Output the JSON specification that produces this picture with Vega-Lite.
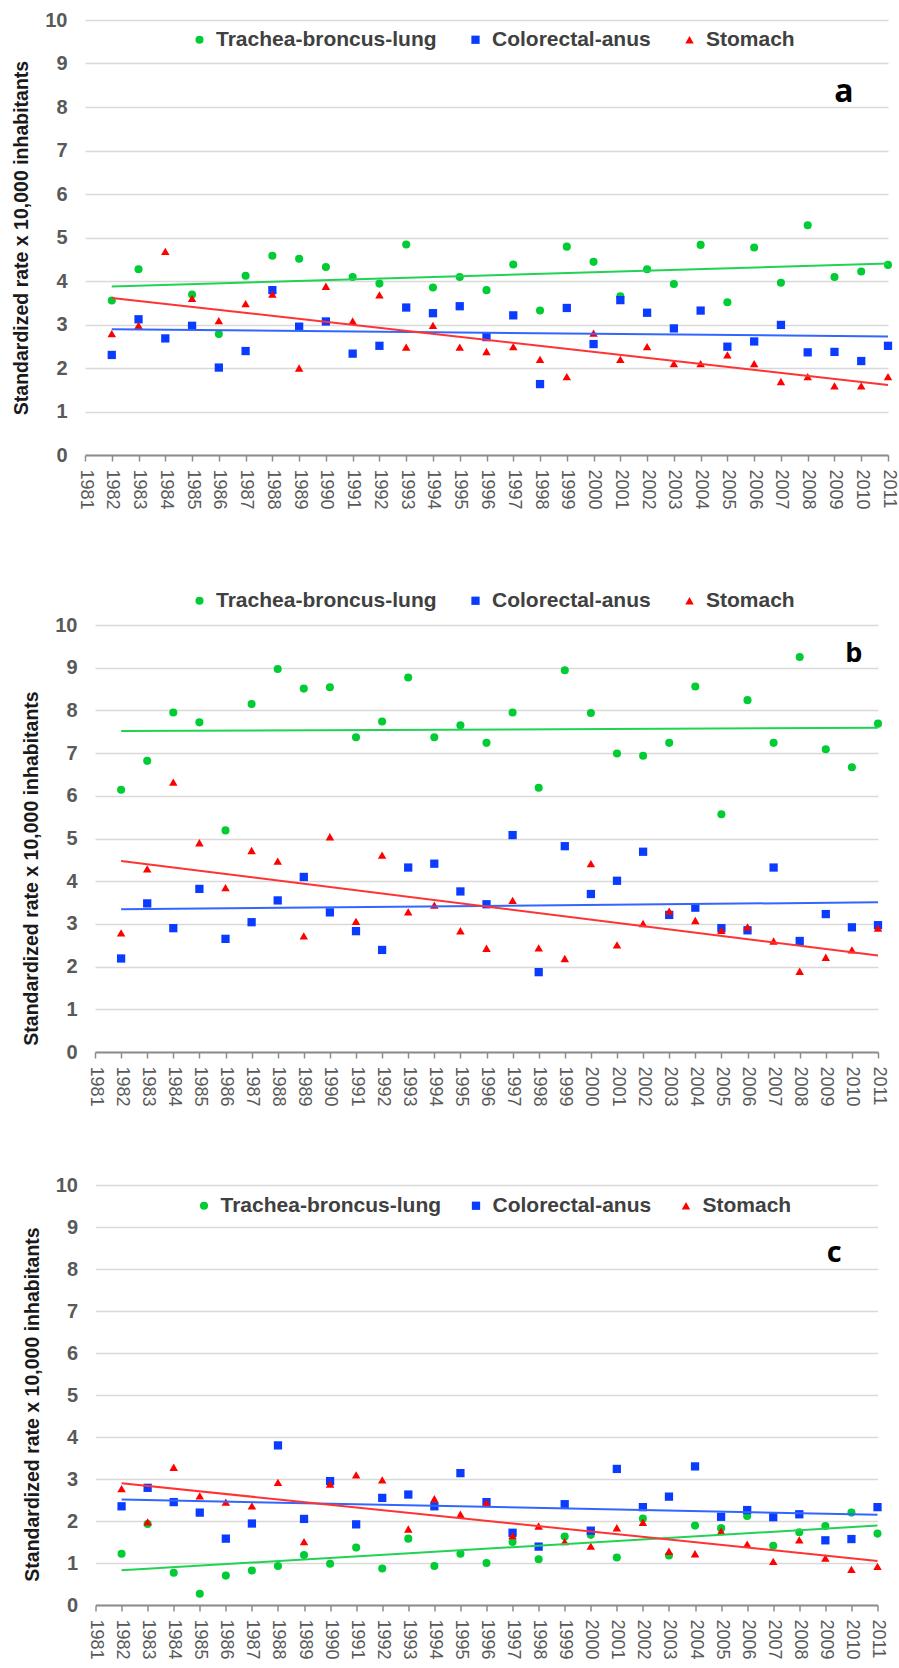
{
  "$schema": "https://vega.github.io/schema/vega-lite/v6.json",
  "background": "white",
  "padding": {"left": 11, "top": 10, "right": 3, "bottom": 0},
  "config": {
    "view": {"stroke": null},
    "axis": {"labelOverlap": false},
    "axisY": {"grid": true, "gridColor": "#d9d9d9", "gridWidth": 1.5, "domain": false, "ticks": false, "tickSize": 0, "labelPadding": 18, "labelFontSize": 20, "labelFontWeight": "bold", "labelColor": "#595959", "labelFont": "Liberation Sans", "titleFontSize": 19.5, "titleFontWeight": "bold", "titleColor": "#1a1a1a", "titlePadding": 13, "titleFont": "Liberation Sans"},
    "axisX": {"format": "d", "labelAngle": 90, "grid": false, "domainColor": "#8c8c8c", "domainWidth": 2, "tickColor": "#8c8c8c", "tickWidth": 1.5, "tickSize": 6, "labelPadding": 8, "labelFontSize": 18, "labelColor": "#595959", "labelFont": "Liberation Sans", "labelOverlap": false, "labelFlush": false, "labelBound": false},
    "legend": {"title": null, "orient": "none", "direction": "horizontal", "padding": 0, "labelFontSize": 21, "labelFont": "Liberation Sans", "labelFontWeight": "bold", "labelColor": "#404040", "labelLimit": 400, "symbolSize": 60, "labelOffset": 6, "columnPadding": 28, "symbolStrokeWidth": 0}
  },
  "datasets": {
    "rates": [
      {"panel":"a","series":"Trachea-broncus-lung","year":1982,"value":3.55},
      {"panel":"a","series":"Trachea-broncus-lung","year":1983,"value":4.27},
      {"panel":"a","series":"Trachea-broncus-lung","year":1985,"value":3.69},
      {"panel":"a","series":"Trachea-broncus-lung","year":1986,"value":2.78},
      {"panel":"a","series":"Trachea-broncus-lung","year":1987,"value":4.12},
      {"panel":"a","series":"Trachea-broncus-lung","year":1988,"value":4.58},
      {"panel":"a","series":"Trachea-broncus-lung","year":1989,"value":4.51},
      {"panel":"a","series":"Trachea-broncus-lung","year":1990,"value":4.32},
      {"panel":"a","series":"Trachea-broncus-lung","year":1991,"value":4.09},
      {"panel":"a","series":"Trachea-broncus-lung","year":1992,"value":3.94},
      {"panel":"a","series":"Trachea-broncus-lung","year":1993,"value":4.84},
      {"panel":"a","series":"Trachea-broncus-lung","year":1994,"value":3.85},
      {"panel":"a","series":"Trachea-broncus-lung","year":1995,"value":4.09},
      {"panel":"a","series":"Trachea-broncus-lung","year":1996,"value":3.79},
      {"panel":"a","series":"Trachea-broncus-lung","year":1997,"value":4.38},
      {"panel":"a","series":"Trachea-broncus-lung","year":1998,"value":3.32},
      {"panel":"a","series":"Trachea-broncus-lung","year":1999,"value":4.79},
      {"panel":"a","series":"Trachea-broncus-lung","year":2000,"value":4.44},
      {"panel":"a","series":"Trachea-broncus-lung","year":2001,"value":3.65},
      {"panel":"a","series":"Trachea-broncus-lung","year":2002,"value":4.27},
      {"panel":"a","series":"Trachea-broncus-lung","year":2003,"value":3.93},
      {"panel":"a","series":"Trachea-broncus-lung","year":2004,"value":4.83},
      {"panel":"a","series":"Trachea-broncus-lung","year":2005,"value":3.51},
      {"panel":"a","series":"Trachea-broncus-lung","year":2006,"value":4.77},
      {"panel":"a","series":"Trachea-broncus-lung","year":2007,"value":3.96},
      {"panel":"a","series":"Trachea-broncus-lung","year":2008,"value":5.28},
      {"panel":"a","series":"Trachea-broncus-lung","year":2009,"value":4.09},
      {"panel":"a","series":"Trachea-broncus-lung","year":2010,"value":4.22},
      {"panel":"a","series":"Trachea-broncus-lung","year":2011,"value":4.37},
      {"panel":"a","series":"Colorectal-anus","year":1982,"value":2.30},
      {"panel":"a","series":"Colorectal-anus","year":1983,"value":3.12},
      {"panel":"a","series":"Colorectal-anus","year":1984,"value":2.68},
      {"panel":"a","series":"Colorectal-anus","year":1985,"value":2.97},
      {"panel":"a","series":"Colorectal-anus","year":1986,"value":2.01},
      {"panel":"a","series":"Colorectal-anus","year":1987,"value":2.39},
      {"panel":"a","series":"Colorectal-anus","year":1988,"value":3.79},
      {"panel":"a","series":"Colorectal-anus","year":1989,"value":2.95},
      {"panel":"a","series":"Colorectal-anus","year":1990,"value":3.07},
      {"panel":"a","series":"Colorectal-anus","year":1991,"value":2.33},
      {"panel":"a","series":"Colorectal-anus","year":1992,"value":2.51},
      {"panel":"a","series":"Colorectal-anus","year":1993,"value":3.39},
      {"panel":"a","series":"Colorectal-anus","year":1994,"value":3.26},
      {"panel":"a","series":"Colorectal-anus","year":1995,"value":3.42},
      {"panel":"a","series":"Colorectal-anus","year":1996,"value":2.71},
      {"panel":"a","series":"Colorectal-anus","year":1997,"value":3.21},
      {"panel":"a","series":"Colorectal-anus","year":1998,"value":1.63},
      {"panel":"a","series":"Colorectal-anus","year":1999,"value":3.38},
      {"panel":"a","series":"Colorectal-anus","year":2000,"value":2.55},
      {"panel":"a","series":"Colorectal-anus","year":2001,"value":3.56},
      {"panel":"a","series":"Colorectal-anus","year":2002,"value":3.27},
      {"panel":"a","series":"Colorectal-anus","year":2003,"value":2.91},
      {"panel":"a","series":"Colorectal-anus","year":2004,"value":3.32},
      {"panel":"a","series":"Colorectal-anus","year":2005,"value":2.49},
      {"panel":"a","series":"Colorectal-anus","year":2006,"value":2.61},
      {"panel":"a","series":"Colorectal-anus","year":2007,"value":2.99},
      {"panel":"a","series":"Colorectal-anus","year":2008,"value":2.36},
      {"panel":"a","series":"Colorectal-anus","year":2009,"value":2.37},
      {"panel":"a","series":"Colorectal-anus","year":2010,"value":2.16},
      {"panel":"a","series":"Colorectal-anus","year":2011,"value":2.51},
      {"panel":"a","series":"Stomach","year":1982,"value":2.79},
      {"panel":"a","series":"Stomach","year":1983,"value":2.98},
      {"panel":"a","series":"Stomach","year":1984,"value":4.68},
      {"panel":"a","series":"Stomach","year":1985,"value":3.60},
      {"panel":"a","series":"Stomach","year":1986,"value":3.09},
      {"panel":"a","series":"Stomach","year":1987,"value":3.48},
      {"panel":"a","series":"Stomach","year":1988,"value":3.70},
      {"panel":"a","series":"Stomach","year":1989,"value":2.00},
      {"panel":"a","series":"Stomach","year":1990,"value":3.88},
      {"panel":"a","series":"Stomach","year":1991,"value":3.08},
      {"panel":"a","series":"Stomach","year":1992,"value":3.68},
      {"panel":"a","series":"Stomach","year":1993,"value":2.48},
      {"panel":"a","series":"Stomach","year":1994,"value":2.98},
      {"panel":"a","series":"Stomach","year":1995,"value":2.48},
      {"panel":"a","series":"Stomach","year":1996,"value":2.38},
      {"panel":"a","series":"Stomach","year":1997,"value":2.49},
      {"panel":"a","series":"Stomach","year":1998,"value":2.20},
      {"panel":"a","series":"Stomach","year":1999,"value":1.80},
      {"panel":"a","series":"Stomach","year":2000,"value":2.80},
      {"panel":"a","series":"Stomach","year":2001,"value":2.20},
      {"panel":"a","series":"Stomach","year":2002,"value":2.49},
      {"panel":"a","series":"Stomach","year":2003,"value":2.10},
      {"panel":"a","series":"Stomach","year":2004,"value":2.10},
      {"panel":"a","series":"Stomach","year":2005,"value":2.30},
      {"panel":"a","series":"Stomach","year":2006,"value":2.10},
      {"panel":"a","series":"Stomach","year":2007,"value":1.69},
      {"panel":"a","series":"Stomach","year":2008,"value":1.80},
      {"panel":"a","series":"Stomach","year":2009,"value":1.59},
      {"panel":"a","series":"Stomach","year":2010,"value":1.59},
      {"panel":"a","series":"Stomach","year":2011,"value":1.80},

      {"panel":"b","series":"Trachea-broncus-lung","year":1982,"value":6.14},
      {"panel":"b","series":"Trachea-broncus-lung","year":1983,"value":6.82},
      {"panel":"b","series":"Trachea-broncus-lung","year":1984,"value":7.95},
      {"panel":"b","series":"Trachea-broncus-lung","year":1985,"value":7.72},
      {"panel":"b","series":"Trachea-broncus-lung","year":1986,"value":5.19},
      {"panel":"b","series":"Trachea-broncus-lung","year":1987,"value":8.15},
      {"panel":"b","series":"Trachea-broncus-lung","year":1988,"value":8.97},
      {"panel":"b","series":"Trachea-broncus-lung","year":1989,"value":8.51},
      {"panel":"b","series":"Trachea-broncus-lung","year":1990,"value":8.54},
      {"panel":"b","series":"Trachea-broncus-lung","year":1991,"value":7.37},
      {"panel":"b","series":"Trachea-broncus-lung","year":1992,"value":7.74},
      {"panel":"b","series":"Trachea-broncus-lung","year":1993,"value":8.77},
      {"panel":"b","series":"Trachea-broncus-lung","year":1994,"value":7.37},
      {"panel":"b","series":"Trachea-broncus-lung","year":1995,"value":7.65},
      {"panel":"b","series":"Trachea-broncus-lung","year":1996,"value":7.24},
      {"panel":"b","series":"Trachea-broncus-lung","year":1997,"value":7.95},
      {"panel":"b","series":"Trachea-broncus-lung","year":1998,"value":6.19},
      {"panel":"b","series":"Trachea-broncus-lung","year":1999,"value":8.94},
      {"panel":"b","series":"Trachea-broncus-lung","year":2000,"value":7.94},
      {"panel":"b","series":"Trachea-broncus-lung","year":2001,"value":6.99},
      {"panel":"b","series":"Trachea-broncus-lung","year":2002,"value":6.94},
      {"panel":"b","series":"Trachea-broncus-lung","year":2003,"value":7.24},
      {"panel":"b","series":"Trachea-broncus-lung","year":2004,"value":8.56},
      {"panel":"b","series":"Trachea-broncus-lung","year":2005,"value":5.57},
      {"panel":"b","series":"Trachea-broncus-lung","year":2006,"value":8.24},
      {"panel":"b","series":"Trachea-broncus-lung","year":2007,"value":7.24},
      {"panel":"b","series":"Trachea-broncus-lung","year":2008,"value":9.25},
      {"panel":"b","series":"Trachea-broncus-lung","year":2009,"value":7.09},
      {"panel":"b","series":"Trachea-broncus-lung","year":2010,"value":6.67},
      {"panel":"b","series":"Trachea-broncus-lung","year":2011,"value":7.69},
      {"panel":"b","series":"Colorectal-anus","year":1982,"value":2.19},
      {"panel":"b","series":"Colorectal-anus","year":1983,"value":3.48},
      {"panel":"b","series":"Colorectal-anus","year":1984,"value":2.90},
      {"panel":"b","series":"Colorectal-anus","year":1985,"value":3.82},
      {"panel":"b","series":"Colorectal-anus","year":1986,"value":2.65},
      {"panel":"b","series":"Colorectal-anus","year":1987,"value":3.04},
      {"panel":"b","series":"Colorectal-anus","year":1988,"value":3.55},
      {"panel":"b","series":"Colorectal-anus","year":1989,"value":4.10},
      {"panel":"b","series":"Colorectal-anus","year":1990,"value":3.27},
      {"panel":"b","series":"Colorectal-anus","year":1991,"value":2.83},
      {"panel":"b","series":"Colorectal-anus","year":1992,"value":2.39},
      {"panel":"b","series":"Colorectal-anus","year":1993,"value":4.32},
      {"panel":"b","series":"Colorectal-anus","year":1994,"value":4.41},
      {"panel":"b","series":"Colorectal-anus","year":1995,"value":3.76},
      {"panel":"b","series":"Colorectal-anus","year":1996,"value":3.46},
      {"panel":"b","series":"Colorectal-anus","year":1997,"value":5.08},
      {"panel":"b","series":"Colorectal-anus","year":1998,"value":1.87},
      {"panel":"b","series":"Colorectal-anus","year":1999,"value":4.82},
      {"panel":"b","series":"Colorectal-anus","year":2000,"value":3.70},
      {"panel":"b","series":"Colorectal-anus","year":2001,"value":4.01},
      {"panel":"b","series":"Colorectal-anus","year":2002,"value":4.69},
      {"panel":"b","series":"Colorectal-anus","year":2003,"value":3.21},
      {"panel":"b","series":"Colorectal-anus","year":2004,"value":3.38},
      {"panel":"b","series":"Colorectal-anus","year":2005,"value":2.90},
      {"panel":"b","series":"Colorectal-anus","year":2006,"value":2.85},
      {"panel":"b","series":"Colorectal-anus","year":2007,"value":4.32},
      {"panel":"b","series":"Colorectal-anus","year":2008,"value":2.60},
      {"panel":"b","series":"Colorectal-anus","year":2009,"value":3.23},
      {"panel":"b","series":"Colorectal-anus","year":2010,"value":2.92},
      {"panel":"b","series":"Colorectal-anus","year":2011,"value":2.97},
      {"panel":"b","series":"Stomach","year":1982,"value":2.79},
      {"panel":"b","series":"Stomach","year":1983,"value":4.29},
      {"panel":"b","series":"Stomach","year":1984,"value":6.32},
      {"panel":"b","series":"Stomach","year":1985,"value":4.90},
      {"panel":"b","series":"Stomach","year":1986,"value":3.85},
      {"panel":"b","series":"Stomach","year":1987,"value":4.72},
      {"panel":"b","series":"Stomach","year":1988,"value":4.47},
      {"panel":"b","series":"Stomach","year":1989,"value":2.72},
      {"panel":"b","series":"Stomach","year":1990,"value":5.04},
      {"panel":"b","series":"Stomach","year":1991,"value":3.06},
      {"panel":"b","series":"Stomach","year":1992,"value":4.61},
      {"panel":"b","series":"Stomach","year":1993,"value":3.28},
      {"panel":"b","series":"Stomach","year":1994,"value":3.44},
      {"panel":"b","series":"Stomach","year":1995,"value":2.84},
      {"panel":"b","series":"Stomach","year":1996,"value":2.43},
      {"panel":"b","series":"Stomach","year":1997,"value":3.55},
      {"panel":"b","series":"Stomach","year":1998,"value":2.44},
      {"panel":"b","series":"Stomach","year":1999,"value":2.19},
      {"panel":"b","series":"Stomach","year":2000,"value":4.41},
      {"panel":"b","series":"Stomach","year":2001,"value":2.51},
      {"panel":"b","series":"Stomach","year":2002,"value":3.01},
      {"panel":"b","series":"Stomach","year":2003,"value":3.30},
      {"panel":"b","series":"Stomach","year":2004,"value":3.08},
      {"panel":"b","series":"Stomach","year":2005,"value":2.85},
      {"panel":"b","series":"Stomach","year":2006,"value":2.93},
      {"panel":"b","series":"Stomach","year":2007,"value":2.60},
      {"panel":"b","series":"Stomach","year":2008,"value":1.89},
      {"panel":"b","series":"Stomach","year":2009,"value":2.22},
      {"panel":"b","series":"Stomach","year":2010,"value":2.39},
      {"panel":"b","series":"Stomach","year":2011,"value":2.90},

      {"panel":"c","series":"Trachea-broncus-lung","year":1982,"value":1.22},
      {"panel":"c","series":"Trachea-broncus-lung","year":1983,"value":1.93},
      {"panel":"c","series":"Trachea-broncus-lung","year":1984,"value":0.77},
      {"panel":"c","series":"Trachea-broncus-lung","year":1985,"value":0.27},
      {"panel":"c","series":"Trachea-broncus-lung","year":1986,"value":0.70},
      {"panel":"c","series":"Trachea-broncus-lung","year":1987,"value":0.82},
      {"panel":"c","series":"Trachea-broncus-lung","year":1988,"value":0.93},
      {"panel":"c","series":"Trachea-broncus-lung","year":1989,"value":1.19},
      {"panel":"c","series":"Trachea-broncus-lung","year":1990,"value":0.98},
      {"panel":"c","series":"Trachea-broncus-lung","year":1991,"value":1.37},
      {"panel":"c","series":"Trachea-broncus-lung","year":1992,"value":0.87},
      {"panel":"c","series":"Trachea-broncus-lung","year":1993,"value":1.58},
      {"panel":"c","series":"Trachea-broncus-lung","year":1994,"value":0.93},
      {"panel":"c","series":"Trachea-broncus-lung","year":1995,"value":1.22},
      {"panel":"c","series":"Trachea-broncus-lung","year":1996,"value":1.00},
      {"panel":"c","series":"Trachea-broncus-lung","year":1997,"value":1.50},
      {"panel":"c","series":"Trachea-broncus-lung","year":1998,"value":1.09},
      {"panel":"c","series":"Trachea-broncus-lung","year":1999,"value":1.63},
      {"panel":"c","series":"Trachea-broncus-lung","year":2000,"value":1.67},
      {"panel":"c","series":"Trachea-broncus-lung","year":2001,"value":1.13},
      {"panel":"c","series":"Trachea-broncus-lung","year":2002,"value":2.06},
      {"panel":"c","series":"Trachea-broncus-lung","year":2003,"value":1.18},
      {"panel":"c","series":"Trachea-broncus-lung","year":2004,"value":1.89},
      {"panel":"c","series":"Trachea-broncus-lung","year":2005,"value":1.83},
      {"panel":"c","series":"Trachea-broncus-lung","year":2006,"value":2.12},
      {"panel":"c","series":"Trachea-broncus-lung","year":2007,"value":1.41},
      {"panel":"c","series":"Trachea-broncus-lung","year":2008,"value":1.73},
      {"panel":"c","series":"Trachea-broncus-lung","year":2009,"value":1.88},
      {"panel":"c","series":"Trachea-broncus-lung","year":2010,"value":2.20},
      {"panel":"c","series":"Trachea-broncus-lung","year":2011,"value":1.70},
      {"panel":"c","series":"Colorectal-anus","year":1982,"value":2.35},
      {"panel":"c","series":"Colorectal-anus","year":1983,"value":2.79},
      {"panel":"c","series":"Colorectal-anus","year":1984,"value":2.45},
      {"panel":"c","series":"Colorectal-anus","year":1985,"value":2.20},
      {"panel":"c","series":"Colorectal-anus","year":1986,"value":1.58},
      {"panel":"c","series":"Colorectal-anus","year":1987,"value":1.94},
      {"panel":"c","series":"Colorectal-anus","year":1988,"value":3.80},
      {"panel":"c","series":"Colorectal-anus","year":1989,"value":2.05},
      {"panel":"c","series":"Colorectal-anus","year":1990,"value":2.95},
      {"panel":"c","series":"Colorectal-anus","year":1991,"value":1.92},
      {"panel":"c","series":"Colorectal-anus","year":1992,"value":2.55},
      {"panel":"c","series":"Colorectal-anus","year":1993,"value":2.63},
      {"panel":"c","series":"Colorectal-anus","year":1994,"value":2.35},
      {"panel":"c","series":"Colorectal-anus","year":1995,"value":3.14},
      {"panel":"c","series":"Colorectal-anus","year":1996,"value":2.45},
      {"panel":"c","series":"Colorectal-anus","year":1997,"value":1.72},
      {"panel":"c","series":"Colorectal-anus","year":1998,"value":1.39},
      {"panel":"c","series":"Colorectal-anus","year":1999,"value":2.40},
      {"panel":"c","series":"Colorectal-anus","year":2000,"value":1.77},
      {"panel":"c","series":"Colorectal-anus","year":2001,"value":3.24},
      {"panel":"c","series":"Colorectal-anus","year":2002,"value":2.33},
      {"panel":"c","series":"Colorectal-anus","year":2003,"value":2.58},
      {"panel":"c","series":"Colorectal-anus","year":2004,"value":3.30},
      {"panel":"c","series":"Colorectal-anus","year":2005,"value":2.10},
      {"panel":"c","series":"Colorectal-anus","year":2006,"value":2.26},
      {"panel":"c","series":"Colorectal-anus","year":2007,"value":2.09},
      {"panel":"c","series":"Colorectal-anus","year":2008,"value":2.16},
      {"panel":"c","series":"Colorectal-anus","year":2009,"value":1.54},
      {"panel":"c","series":"Colorectal-anus","year":2010,"value":1.57},
      {"panel":"c","series":"Colorectal-anus","year":2011,"value":2.33},
      {"panel":"c","series":"Stomach","year":1982,"value":2.77},
      {"panel":"c","series":"Stomach","year":1983,"value":1.98},
      {"panel":"c","series":"Stomach","year":1984,"value":3.28},
      {"panel":"c","series":"Stomach","year":1985,"value":2.60},
      {"panel":"c","series":"Stomach","year":1986,"value":2.45},
      {"panel":"c","series":"Stomach","year":1987,"value":2.36},
      {"panel":"c","series":"Stomach","year":1988,"value":2.92},
      {"panel":"c","series":"Stomach","year":1989,"value":1.51},
      {"panel":"c","series":"Stomach","year":1990,"value":2.88},
      {"panel":"c","series":"Stomach","year":1991,"value":3.10},
      {"panel":"c","series":"Stomach","year":1992,"value":2.98},
      {"panel":"c","series":"Stomach","year":1993,"value":1.81},
      {"panel":"c","series":"Stomach","year":1994,"value":2.53},
      {"panel":"c","series":"Stomach","year":1995,"value":2.16},
      {"panel":"c","series":"Stomach","year":1996,"value":2.43},
      {"panel":"c","series":"Stomach","year":1997,"value":1.65},
      {"panel":"c","series":"Stomach","year":1998,"value":1.88},
      {"panel":"c","series":"Stomach","year":1999,"value":1.51},
      {"panel":"c","series":"Stomach","year":2000,"value":1.40},
      {"panel":"c","series":"Stomach","year":2001,"value":1.84},
      {"panel":"c","series":"Stomach","year":2002,"value":1.97},
      {"panel":"c","series":"Stomach","year":2003,"value":1.28},
      {"panel":"c","series":"Stomach","year":2004,"value":1.22},
      {"panel":"c","series":"Stomach","year":2005,"value":1.76},
      {"panel":"c","series":"Stomach","year":2006,"value":1.45},
      {"panel":"c","series":"Stomach","year":2007,"value":1.04},
      {"panel":"c","series":"Stomach","year":2008,"value":1.55},
      {"panel":"c","series":"Stomach","year":2009,"value":1.12},
      {"panel":"c","series":"Stomach","year":2010,"value":0.85},
      {"panel":"c","series":"Stomach","year":2011,"value":0.92}
    ]
  },
  "spacing": 80,
  "center": true,
  "resolve": {"scale": {"color": "independent", "shape": "independent", "size": "independent", "stroke": "independent"}, "legend": {"color": "independent", "shape": "independent"}},
  "vconcat": [
    {
      "width": 803, "height": 435,
      "layer": [
        {
          "data": {"name": "rates"},
          "transform": [{"filter": "datum.panel === 'a'"}],
          "mark": {"type": "point", "filled": true, "opacity": 1},
          "encoding": {
            "x": {"field": "year", "type": "quantitative", "scale": {"domain": [1981, 2011], "nice": false, "zero": false}, "axis": {"title": null, "values": [1981,1982,1983,1984,1985,1986,1987,1988,1989,1990,1991,1992,1993,1994,1995,1996,1997,1998,1999,2000,2001,2002,2003,2004,2005,2006,2007,2008,2009,2010,2011], "labelOverlap": false, "labelFlush": false}},
            "y": {"field": "value", "type": "quantitative", "scale": {"domain": [0, 10], "nice": false}, "axis": {"title": "Standardized rate x 10,000 inhabitants", "values": [0,1,2,3,4,5,6,7,8,9,10]}},
            "color": {"field": "series", "type": "nominal", "scale": {"domain": ["Trachea-broncus-lung", "Colorectal-anus", "Stomach"], "range": ["#00cc33", "#0a3cff", "#ff0000"]}, "legend": {"orient": "none", "legendX": 104, "legendY": 9, "direction": "horizontal"}},
            "shape": {"field": "series", "type": "nominal", "scale": {"domain": ["Trachea-broncus-lung", "Colorectal-anus", "Stomach"], "range": ["circle", "square", "triangle-up"]}, "legend": {"orient": "none", "legendX": 104, "legendY": 9, "direction": "horizontal"}},
            "size": {"field": "series", "type": "nominal", "scale": {"domain": ["Trachea-broncus-lung", "Colorectal-anus", "Stomach"], "range": [65, 72, 45]}, "legend": null}
          }
        },
        {
          "data": {"name": "rates"},
          "transform": [{"filter": "datum.panel === 'a'"}, {"regression": "value", "on": "year", "groupby": ["series"]}],
          "mark": {"type": "line", "strokeWidth": 2},
          "encoding": {
            "x": {"field": "year", "type": "quantitative", "axis": {"title": null, "values": [1981,1982,1983,1984,1985,1986,1987,1988,1989,1990,1991,1992,1993,1994,1995,1996,1997,1998,1999,2000,2001,2002,2003,2004,2005,2006,2007,2008,2009,2010,2011], "labelOverlap": false, "labelFlush": false}},
            "y": {"field": "value", "type": "quantitative", "axis": {"title": "Standardized rate x 10,000 inhabitants", "values": [0,1,2,3,4,5,6,7,8,9,10]}},
            "stroke": {"field": "series", "type": "nominal", "scale": {"domain": ["Trachea-broncus-lung", "Colorectal-anus", "Stomach"], "range": ["#22d255", "#3366ff", "#ff3333"]}, "legend": null}
          }
        },
        {
          "data": {"values": [{"label": "a"}]},
          "mark": {"type": "text", "font": "Open Sans", "fontWeight": "bold", "fontSize": 32, "color": "#000000"},
          "encoding": {
            "x": {"datum": 2009.35, "type": "quantitative", "axis": {"title": null, "values": [1981,1982,1983,1984,1985,1986,1987,1988,1989,1990,1991,1992,1993,1994,1995,1996,1997,1998,1999,2000,2001,2002,2003,2004,2005,2006,2007,2008,2009,2010,2011], "labelOverlap": false, "labelFlush": false}},
            "y": {"datum": 8.34, "type": "quantitative", "axis": {"title": "Standardized rate x 10,000 inhabitants", "values": [0,1,2,3,4,5,6,7,8,9,10]}},
            "text": {"field": "label", "type": "nominal"}
          }
        }
      ]
    },
    {
      "spacing": 68,
      "center": true,
      "resolve": {"scale": {"color": "independent", "shape": "independent", "size": "independent", "stroke": "independent"}, "legend": {"color": "independent", "shape": "independent"}},
      "vconcat": [
        {
          "width": 783, "height": 427,
          "layer": [
            {
              "data": {"name": "rates"},
              "transform": [{"filter": "datum.panel === 'b'"}],
              "mark": {"type": "point", "filled": true, "opacity": 1},
              "encoding": {
                "x": {"field": "year", "type": "quantitative", "scale": {"domain": [1981, 2011], "nice": false, "zero": false}, "axis": {"title": null, "values": [1981,1982,1983,1984,1985,1986,1987,1988,1989,1990,1991,1992,1993,1994,1995,1996,1997,1998,1999,2000,2001,2002,2003,2004,2005,2006,2007,2008,2009,2010,2011], "labelOverlap": false, "labelFlush": false}},
                "y": {"field": "value", "type": "quantitative", "scale": {"domain": [0, 10], "nice": false}, "axis": {"title": "Standardized rate x 10,000 inhabitants", "titleY": 243, "values": [0,1,2,3,4,5,6,7,8,9,10]}},
                "color": {"field": "series", "type": "nominal", "scale": {"domain": ["Trachea-broncus-lung", "Colorectal-anus", "Stomach"], "range": ["#00cc33", "#0a3cff", "#ff0000"]}, "legend": {"orient": "none", "legendX": 94, "legendY": -35, "direction": "horizontal"}},
                "shape": {"field": "series", "type": "nominal", "scale": {"domain": ["Trachea-broncus-lung", "Colorectal-anus", "Stomach"], "range": ["circle", "square", "triangle-up"]}, "legend": {"orient": "none", "legendX": 94, "legendY": -35, "direction": "horizontal"}},
                "size": {"field": "series", "type": "nominal", "scale": {"domain": ["Trachea-broncus-lung", "Colorectal-anus", "Stomach"], "range": [65, 72, 45]}, "legend": null}
              }
            },
            {
              "data": {"name": "rates"},
              "transform": [{"filter": "datum.panel === 'b'"}, {"regression": "value", "on": "year", "groupby": ["series"]}],
              "mark": {"type": "line", "strokeWidth": 2},
              "encoding": {
                "x": {"field": "year", "type": "quantitative", "axis": {"title": null, "values": [1981,1982,1983,1984,1985,1986,1987,1988,1989,1990,1991,1992,1993,1994,1995,1996,1997,1998,1999,2000,2001,2002,2003,2004,2005,2006,2007,2008,2009,2010,2011], "labelOverlap": false, "labelFlush": false}},
                "y": {"field": "value", "type": "quantitative", "axis": {"title": "Standardized rate x 10,000 inhabitants", "titleY": 243, "values": [0,1,2,3,4,5,6,7,8,9,10]}},
                "stroke": {"field": "series", "type": "nominal", "scale": {"domain": ["Trachea-broncus-lung", "Colorectal-anus", "Stomach"], "range": ["#22d255", "#3366ff", "#ff3333"]}, "legend": null}
              }
            },
            {
              "data": {"values": [{"label": "b"}]},
              "mark": {"type": "text", "font": "Open Sans", "fontWeight": "bold", "fontSize": 27, "color": "#000000"},
              "encoding": {
                "x": {"datum": 2010.07, "type": "quantitative", "axis": {"title": null, "values": [1981,1982,1983,1984,1985,1986,1987,1988,1989,1990,1991,1992,1993,1994,1995,1996,1997,1998,1999,2000,2001,2002,2003,2004,2005,2006,2007,2008,2009,2010,2011], "labelOverlap": false, "labelFlush": false}},
                "y": {"datum": 9.31, "type": "quantitative", "axis": {"title": "Standardized rate x 10,000 inhabitants", "titleY": 243, "values": [0,1,2,3,4,5,6,7,8,9,10]}},
                "text": {"field": "label", "type": "nominal"}
              }
            }
          ]
        },
        {
          "width": 782, "height": 420,
          "layer": [
            {
              "data": {"name": "rates"},
              "transform": [{"filter": "datum.panel === 'c'"}],
              "mark": {"type": "point", "filled": true, "opacity": 1},
              "encoding": {
                "x": {"field": "year", "type": "quantitative", "scale": {"domain": [1981, 2011], "nice": false, "zero": false}, "axis": {"title": null, "values": [1981,1982,1983,1984,1985,1986,1987,1988,1989,1990,1991,1992,1993,1994,1995,1996,1997,1998,1999,2000,2001,2002,2003,2004,2005,2006,2007,2008,2009,2010,2011], "labelOverlap": false, "labelFlush": false}},
                "y": {"field": "value", "type": "quantitative", "scale": {"domain": [0, 10], "nice": false}, "axis": {"title": "Standardized rate x 10,000 inhabitants", "titleY": 219, "values": [0,1,2,3,4,5,6,7,8,9,10]}},
                "color": {"field": "series", "type": "nominal", "scale": {"domain": ["Trachea-broncus-lung", "Colorectal-anus", "Stomach"], "range": ["#00cc33", "#0a3cff", "#ff0000"]}, "legend": {"orient": "none", "legendX": 98, "legendY": 10, "direction": "horizontal", "columnPadding": 24}},
                "shape": {"field": "series", "type": "nominal", "scale": {"domain": ["Trachea-broncus-lung", "Colorectal-anus", "Stomach"], "range": ["circle", "square", "triangle-up"]}, "legend": {"orient": "none", "legendX": 98, "legendY": 10, "direction": "horizontal", "columnPadding": 24}},
                "size": {"field": "series", "type": "nominal", "scale": {"domain": ["Trachea-broncus-lung", "Colorectal-anus", "Stomach"], "range": [65, 72, 45]}, "legend": null}
              }
            },
            {
              "data": {"name": "rates"},
              "transform": [{"filter": "datum.panel === 'c'"}, {"regression": "value", "on": "year", "groupby": ["series"]}],
              "mark": {"type": "line", "strokeWidth": 2},
              "encoding": {
                "x": {"field": "year", "type": "quantitative", "axis": {"title": null, "values": [1981,1982,1983,1984,1985,1986,1987,1988,1989,1990,1991,1992,1993,1994,1995,1996,1997,1998,1999,2000,2001,2002,2003,2004,2005,2006,2007,2008,2009,2010,2011], "labelOverlap": false, "labelFlush": false}},
                "y": {"field": "value", "type": "quantitative", "axis": {"title": "Standardized rate x 10,000 inhabitants", "titleY": 219, "values": [0,1,2,3,4,5,6,7,8,9,10]}},
                "stroke": {"field": "series", "type": "nominal", "scale": {"domain": ["Trachea-broncus-lung", "Colorectal-anus", "Stomach"], "range": ["#22d255", "#3366ff", "#ff3333"]}, "legend": null}
              }
            },
            {
              "data": {"values": [{"label": "c"}]},
              "mark": {"type": "text", "font": "Open Sans", "fontWeight": "bold", "fontSize": 29, "color": "#000000"},
              "encoding": {
                "x": {"datum": 2009.34, "type": "quantitative", "axis": {"title": null, "values": [1981,1982,1983,1984,1985,1986,1987,1988,1989,1990,1991,1992,1993,1994,1995,1996,1997,1998,1999,2000,2001,2002,2003,2004,2005,2006,2007,2008,2009,2010,2011], "labelOverlap": false, "labelFlush": false}},
                "y": {"datum": 8.38, "type": "quantitative", "axis": {"title": "Standardized rate x 10,000 inhabitants", "titleY": 219, "values": [0,1,2,3,4,5,6,7,8,9,10]}},
                "text": {"field": "label", "type": "nominal"}
              }
            }
          ]
        }
      ]
    }
  ]
}
